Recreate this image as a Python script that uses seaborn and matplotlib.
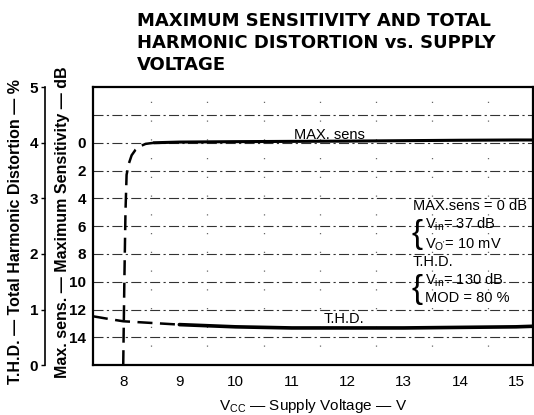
import matplotlib
matplotlib.use("Agg")
import matplotlib.pyplot as plt
from matplotlib.ticker import FixedLocator
import seaborn as sns
import pandas as pd
import numpy as np

sns.set_theme(style="white")
plt.rcParams['font.family'] = ['Liberation Sans', 'DejaVu Sans']
plt.rcParams['mathtext.fontset'] = 'custom'
plt.rcParams['mathtext.rm'] = 'Liberation Sans'
plt.rcParams['mathtext.it'] = 'Liberation Sans'
for k in ['text.color', 'axes.labelcolor', 'xtick.color', 'ytick.color']:
    plt.rcParams[k] = 'black'

# ---- data ----
sens_v = [8.00, 8.02, 8.04, 8.06, 8.10, 8.15, 8.22, 8.30, 8.40, 8.55,
          9.0, 10.0, 11.0, 12.0, 13.0, 14.0, 15.0, 15.3]
sens_db = [16.0, 10.0, 5.0, 2.3, 1.5, 0.9, 0.5, 0.25, 0.08, 0.0,
           -0.05, -0.08, -0.1, -0.12, -0.15, -0.18, -0.2, -0.2]
sens_solid_from = 8.55

thd_v = [7.46, 7.75, 8.0, 8.5, 9.0, 9.5, 10.0, 10.5, 11.0, 12.0, 13.0, 14.0, 15.0, 15.3]
thd_pct = [0.88, 0.83, 0.79, 0.76, 0.73, 0.71, 0.69, 0.68, 0.67, 0.67, 0.67, 0.68, 0.69, 0.70]
thd_solid_from = 9.0

x_ticks = [8, 9, 10, 11, 12, 13, 14, 15]
db_ticks = [0, 2, 4, 6, 8, 10, 12, 14]
thd_ticks = [0, 1, 2, 3, 4, 5]

sens = pd.DataFrame({"V": sens_v, "dB": sens_db})
thd = pd.DataFrame({"V": thd_v, "pct": thd_pct})

fig = plt.figure(figsize=(5.34, 4.15), dpi=100)
ax = fig.add_axes([0.174, 0.120, 0.824, 0.670])
ax.set_xlim(7.46, 15.3)
ax.set_ylim(16, -4)

# grid
ax.set_yticks(db_ticks)
ax.yaxis.set_minor_locator(FixedLocator([-2]))
ax.xaxis.set_minor_locator(FixedLocator(np.arange(8.5, 15.1, 0.5)))
ax.grid(axis='y', which='both', color='black', lw=0.8, linestyle=(0, (9, 3, 2, 3)), alpha=0.8)
ax.grid(axis='x', which='minor', color='black', lw=0.9, linestyle=(0, (1, 14)), alpha=0.6)

# max sens curve (dB axis)
sns.lineplot(data=sens[sens.V <= sens_solid_from], x="V", y="dB", ax=ax,
             color='black', lw=1.8, linestyle=(0, (6, 3)), sort=False)
sns.lineplot(data=sens[sens.V >= sens_solid_from], x="V", y="dB", ax=ax,
             color='black', lw=2.2, sort=False)

# thd curve (percent axis)
ax2 = ax.twinx()
ax2.set_ylim(0, 5)
sns.lineplot(data=thd[thd.V <= thd_solid_from], x="V", y="pct", ax=ax2,
             color='black', lw=1.8, linestyle=(0, (6, 3)))
sns.lineplot(data=thd[thd.V >= thd_solid_from], x="V", y="pct", ax=ax2,
             color='black', lw=2.6)
ax2.set_axis_off()

# axes styling
for s in ax.spines.values():
    s.set_color('black')
    s.set_linewidth(1.6)
ax.set_xticks(x_ticks)
ax.set_xticklabels([str(t) for t in x_ticks])
ax.tick_params(axis='x', which='both', length=0, pad=7, labelsize=11)
ax.tick_params(axis='y', which='both', length=0, pad=5, labelsize=11)
for lab in ax.get_yticklabels():
    lab.set_fontweight('bold')
ax.set_xlabel(r"V$_{\mathrm{CC}}$ — Supply Voltage — V", fontsize=11, labelpad=6)
ax.set_ylabel("")

sec = ax.secondary_yaxis(-0.109, functions=(lambda d: 4 - np.asarray(d) / 4.0,
                                             lambda t: 4.0 * (4 - np.asarray(t))))
sec.set_yticks(thd_ticks)
sec.spines['left'].set_color('black')
sec.spines['left'].set_linewidth(1.2)
sec.tick_params(axis='y', left=True, length=3, width=1, pad=2, labelsize=11, color='black')
for lab in sec.get_yticklabels():
    lab.set_fontweight('bold')

ax.text(-0.177, 0.48, "T.H.D. — Total Harmonic Distortion — %", transform=ax.transAxes,
        rotation=90, ha='center', va='center', fontsize=11.5, fontweight='bold')
ax.text(-0.070, 0.515, "Max. sens. — Maximum Sensitivity — dB", transform=ax.transAxes,
        rotation=90, ha='center', va='center', fontsize=11.5, fontweight='bold')

# annotations
ax.text(0.538, 0.828, "MAX. sens", transform=ax.transAxes, ha='center', va='center', fontsize=10.5)
ax.text(0.57, 0.165, "T.H.D.", transform=ax.transAxes, ha='center', va='center', fontsize=10.5)
tx = 0.727
ax.text(tx, 0.574, "MAX.sens = 0 dB", transform=ax.transAxes, ha='left', va='center', fontsize=10.5)
ax.text(tx - 0.002, 0.469, "{", transform=ax.transAxes, ha='left', va='center', fontsize=24,
        fontweight='light')
ax.text(tx + 0.027, 0.505, r"V$_{\mathrm{in}}$= 37 dB", transform=ax.transAxes, ha='left', va='center', fontsize=10.5)
ax.text(tx + 0.027, 0.433, r"V$_{\mathrm{O'}}$= 10 mV", transform=ax.transAxes, ha='left', va='center', fontsize=10.5)
ax.text(tx, 0.372, "T.H.D.", transform=ax.transAxes, ha='left', va='center', fontsize=10.5)
ax.text(tx - 0.002, 0.274, "{", transform=ax.transAxes, ha='left', va='center', fontsize=24,
        fontweight='light')
ax.text(tx + 0.027, 0.307, r"V$_{\mathrm{in}}$= 130 dB", transform=ax.transAxes, ha='left', va='center', fontsize=10.5)
ax.text(tx + 0.027, 0.242, "MOD = 80 %", transform=ax.transAxes, ha='left', va='center', fontsize=10.5)

fig.text(0.257, 0.972, "MAXIMUM SENSITIVITY AND TOTAL\nHARMONIC DISTORTION vs. SUPPLY\nVOLTAGE",
         ha='left', va='top', fontsize=13, fontweight='bold', family='DejaVu Sans', linespacing=1.3)

fig.savefig("out.png", dpi=100)
